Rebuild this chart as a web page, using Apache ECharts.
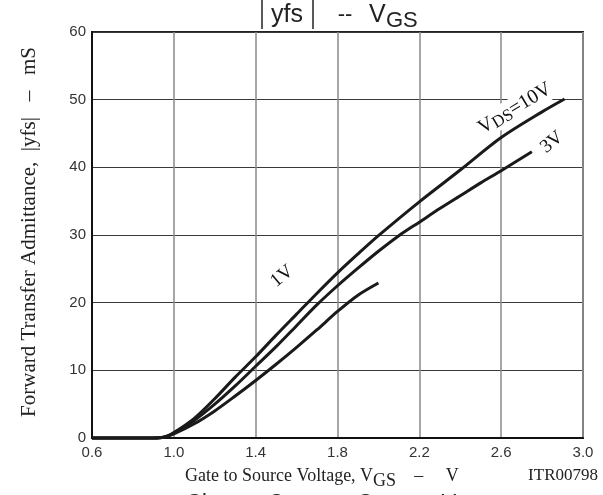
<!DOCTYPE html>
<html><head><meta charset="utf-8">
<script src="https://cdn.jsdelivr.net/npm/echarts@6/dist/echarts.min.js"></script>
<style>html,body{margin:0;padding:0;background:#fff}#c{width:603px;height:495px}</style>
</head><body><div id="c"></div>
<script>
// Gate-source voltage (V) and |yfs| (mS) for each VDS curve
const vgs10 = [0.6, 0.9, 0.95, 1.0, 1.1, 1.2, 1.3, 1.4, 1.5, 1.6, 1.7, 1.8, 1.9, 2.0, 2.2, 2.4, 2.6, 2.8, 2.91];
const yfs10 = [0, 0, 0.1, 0.8, 2.9, 5.8, 9.0, 12.0, 15.2, 18.3, 21.4, 24.4, 27.2, 29.9, 34.9, 39.6, 44.4, 48.2, 50.1];
const vgs3  = [0.6, 0.9, 0.95, 1.0, 1.1, 1.2, 1.3, 1.4, 1.5, 1.6, 1.7, 1.8, 1.9, 2.0, 2.1, 2.2, 2.3, 2.4, 2.5, 2.6, 2.75];
const yfs3  = [0, 0, 0.1, 0.7, 2.6, 5.0, 7.7, 10.6, 13.5, 16.6, 19.7, 22.5, 25.1, 27.6, 29.9, 31.9, 33.9, 35.8, 37.7, 39.5, 42.3];
const vgs1  = [0.6, 0.9, 0.95, 1.0, 1.1, 1.2, 1.3, 1.4, 1.5, 1.6, 1.7, 1.8, 1.9, 2.0];
const yfs1  = [0, 0, 0.1, 0.6, 2.1, 4.0, 6.2, 8.5, 10.9, 13.4, 16.0, 18.7, 21.1, 22.9];
const xTickLabels = ['0.6', '1.0', '1.4', '1.8', '2.2', '2.6', '3.0'];
const yTickLabels = ['0', '10', '20', '30', '40', '50', '60'];
const X0 = 0.6, XSTEP = 0.4;

const SERIF = "'Liberation Serif', 'DejaVu Serif', serif";
const SANS = "'Liberation Sans', Arial, sans-serif";

function pts(xs, ys) { return xs.map((x, i) => [x - X0, ys[i]]); }

const chart = echarts.init(document.getElementById('c'), null, {renderer: 'canvas'});
const lineStyle = {color: '#1a1a1a', width: 3};
const lineCommon = {type: 'line', smooth: 0.3, showSymbol: false, lineStyle, clip: false};
chart.setOption({
  animation: false,
  grid: {left: 92, right: 20, top: 32, bottom: 57, show: true, borderColor: '#222', borderWidth: 2, backgroundColor: 'transparent'},
  xAxis: {
    type: 'value', min: 0, max: (xTickLabels.length - 1) * XSTEP, interval: XSTEP,
    axisLine: {show: true, lineStyle: {color: '#111', width: 2}},
    axisTick: {show: false},
    splitLine: {show: true, lineStyle: {color: '#8a8a8a', width: 1.5}},
    axisLabel: {
      margin: 7, color: '#333', fontFamily: SANS, fontSize: 15,
      formatter: (v) => xTickLabels[Math.round(v / XSTEP)] || ''
    }
  },
  yAxis: {
    type: 'value', min: 0, max: 60, interval: 10,
    axisLine: {show: true, lineStyle: {color: '#111', width: 2}},
    axisTick: {show: false},
    splitLine: {show: true, lineStyle: {color: '#3a3a3a', width: 1}},
    axisLabel: {
      margin: 6, color: '#333', fontFamily: SANS, fontSize: 15,
      formatter: (v) => yTickLabels[Math.round(v / 10)] || ''
    }
  },
  series: [
    Object.assign({data: pts(vgs10, yfs10)}, lineCommon),
    Object.assign({data: pts(vgs3, yfs3)}, lineCommon),
    Object.assign({data: pts(vgs1, yfs1)}, lineCommon)
  ]
});

function px(v, y) { return chart.convertToPixel({gridIndex: 0}, [v - X0, y]); }
const p10 = px(2.667, 48.7), p3 = px(2.848, 43.7), p1 = px(1.529, 23.9);
const deg = Math.PI / 180;
chart.setOption({
  graphic: [
    // title
    {type: 'line', shape: {x1: 262, y1: 0, x2: 262, y2: 29}, style: {stroke: '#222', lineWidth: 1.5}},
    {type: 'line', shape: {x1: 313, y1: 0, x2: 313, y2: 29}, style: {stroke: '#222', lineWidth: 1.5}},
    {type: 'text', x: 287, y: 15, style: {text: 'yfs', font: '25px ' + SANS, fill: '#222', align: 'center', verticalAlign: 'middle'}},
    {type: 'text', x: 345, y: 15, style: {text: '--', font: '22px ' + SANS, fill: '#222', align: 'center', verticalAlign: 'middle'}},
    {type: 'text', x: 369, y: 15, style: {text: 'V', font: '25px ' + SANS, fill: '#222', align: 'left', verticalAlign: 'middle'}},
    {type: 'text', x: 386, y: 21, style: {text: 'GS', font: '22px ' + SANS, fill: '#222', align: 'left', verticalAlign: 'middle'}},
    // y axis name
    {type: 'text', x: 29, y: 232, rotation: Math.PI / 2,
     style: {text: 'Forward Transfer Admittance,  |yfs|   –   mS', font: '21px ' + SERIF, fill: '#222', align: 'center', verticalAlign: 'middle'}},
    // x axis name
    {type: 'text', x: 185, y: 476, style: {
      text: 'Gate to Source Voltage, V{s|GS}    –     V', font: '18px ' + SERIF, fill: '#222', align: 'left', verticalAlign: 'middle',
      rich: {s: {font: '18px ' + SERIF, fill: '#222', padding: [10, 0, 0, 0]}}}},
    {type: 'text', x: 598, y: 476, style: {text: 'ITR00798', font: '17px ' + SERIF, fill: '#222', align: 'right', verticalAlign: 'middle'}},
    // clipped next title
    {type: 'text', x: 186, y: 492, style: {text: 'Ciss  --  Coss  --  Crss  --  V', font: '22px ' + SANS, fill: '#222', align: 'left', verticalAlign: 'top'}},
    // curve labels
    {type: 'text', x: p10[0], y: p10[1], rotation: 31 * deg, style: {
      text: 'V{s|DS}=10V', font: '20px ' + SERIF, fill: '#111', align: 'center', verticalAlign: 'middle',
      backgroundColor: '#fff', rich: {s: {font: '17px ' + SERIF, fill: '#111', padding: [6, 0, 0, 0]}}}},
    {type: 'text', x: p3[0], y: p3[1], rotation: 40 * deg, style: {text: '3V', font: '19px ' + SERIF, fill: '#111', align: 'center', verticalAlign: 'middle', backgroundColor: '#fff'}},
    {type: 'text', x: p1[0], y: p1[1], rotation: 40 * deg, style: {text: '1V', font: '19px ' + SERIF, fill: '#111', align: 'center', verticalAlign: 'middle', backgroundColor: '#fff'}}
  ]
});
</script></body></html>
